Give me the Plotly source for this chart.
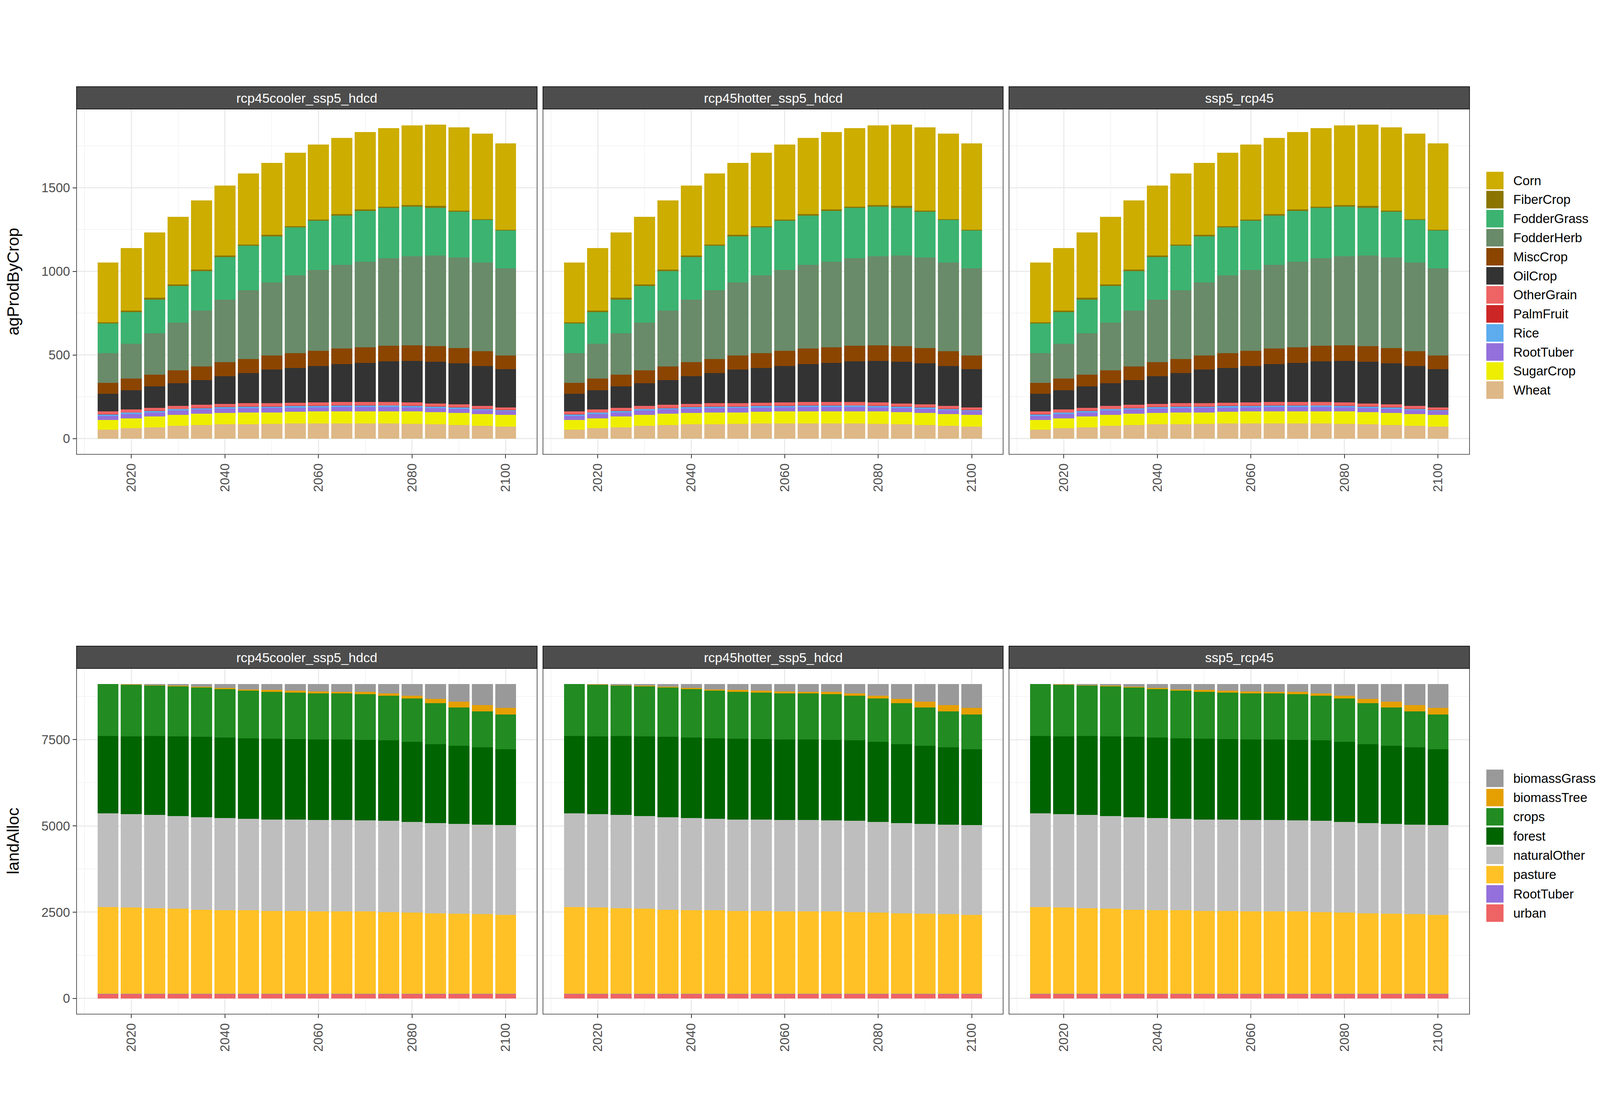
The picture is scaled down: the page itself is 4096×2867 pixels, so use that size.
import plotly.graph_objects as go

W, H = 4096, 2867
FONT = "Liberation Sans, Arial, Helvetica, sans-serif"

scenarios = ["rcp45cooler_ssp5_hdcd", "rcp45hotter_ssp5_hdcd", "ssp5_rcp45"]
years = [2015, 2020, 2025, 2030, 2035, 2040, 2045, 2050, 2055,
         2060, 2065, 2070, 2075, 2080, 2085, 2090, 2095, 2100]

# ---- agProdByCrop (stack order top -> bottom, as in legend) ----
crop_names = ["Corn", "FiberCrop", "FodderGrass", "FodderHerb", "MiscCrop", "OilCrop",
              "OtherGrain", "PalmFruit", "Rice", "RootTuber", "SugarCrop", "Wheat"]
crop_colors = ["#CDAD00", "#8B7500", "#3CB371", "#698B69", "#8B4500", "#333333",
               "#EE6363", "#CD2626", "#5CACEE", "#9370DB", "#EEEE00", "#DEB887"]
Corn        = [357, 373, 390, 404, 412, 417, 424, 430, 438, 448, 456, 463, 469, 477, 487, 498, 510, 515]
FiberCrop   = [8, 10, 10, 10, 10, 10, 8, 8, 8, 8, 10, 8, 8, 10, 10, 6, 6, 6]
FodderGrass = [177, 188, 201, 219, 237, 253, 265, 276, 287, 294, 295, 304, 302, 295, 286, 273, 253, 227]
FodderHerb  = [177, 208, 248, 286, 334, 375, 411, 437, 464, 485, 500, 511, 523, 534, 541, 542, 532, 519]
MiscCrop    = [65, 70, 71, 76, 80, 83, 84, 84, 89, 89, 93, 94, 93, 93, 94, 91, 88, 83]
OilCrop     = [105, 115, 128, 136, 149, 166, 182, 201, 208, 218, 226, 234, 244, 248, 250, 247, 239, 229]
OtherGrain  = [18, 18, 16, 18, 19, 18, 18, 18, 18, 19, 19, 19, 19, 19, 17, 16, 15, 13]
PalmFruit   = [1, 1, 1, 1, 1, 1, 1, 1, 1, 1, 1, 1, 1, 1, 1, 1, 1, 1]
Rice        = [10, 10, 10, 10, 8, 10, 10, 10, 11, 11, 11, 11, 10, 10, 10, 10, 8, 6]
RootTuber   = [23, 24, 24, 24, 26, 26, 26, 26, 24, 24, 24, 24, 24, 24, 23, 23, 24, 24]
SugarCrop   = [58, 60, 65, 67, 67, 67, 70, 68, 70, 71, 73, 73, 73, 73, 73, 73, 71, 71]
Wheat       = [54, 62, 68, 76, 81, 86, 86, 89, 91, 91, 91, 91, 91, 89, 86, 81, 76, 71]
crop_values = [Corn, FiberCrop, FodderGrass, FodderHerb, MiscCrop, OilCrop,
               OtherGrain, PalmFruit, Rice, RootTuber, SugarCrop, Wheat]

# ---- landAlloc ----
land_names = ["biomassGrass", "biomassTree", "crops", "forest", "naturalOther",
              "pasture", "RootTuber", "urban"]
land_colors = ["#999999", "#E69F00", "#228B22", "#006400", "#BEBEBE",
               "#FFC125", "#9370DB", "#EE6363"]
biomassGrass = [0, 8, 32, 41, 73, 114, 154, 171, 195, 211, 228, 228, 268, 333, 431, 512, 609, 683]
biomassTree  = [0, 8, 8, 16, 24, 33, 33, 49, 57, 57, 49, 65, 73, 89, 122, 163, 179, 203]
crops        = [1503, 1495, 1463, 1454, 1430, 1398, 1381, 1365, 1341, 1333, 1333, 1324, 1292, 1251, 1186, 1113, 1048, 999]
forest       = [2243, 2259, 2291, 2316, 2332, 2340, 2340, 2340, 2332, 2340, 2332, 2332, 2332, 2316, 2283, 2267, 2243, 2202]
naturalOther = [2714, 2706, 2698, 2681, 2681, 2673, 2649, 2649, 2649, 2649, 2649, 2641, 2641, 2633, 2616, 2600, 2592, 2600]
pasture      = [2514, 2498, 2481, 2465, 2433, 2416, 2416, 2400, 2400, 2384, 2384, 2384, 2368, 2351, 2335, 2319, 2303, 2286]
RootTuberL   = [5, 5, 5, 5, 5, 5, 5, 5, 5, 5, 5, 5, 5, 5, 5, 5, 5, 5]
urban        = [130, 130, 130, 130, 130, 130, 130, 130, 130, 130, 130, 130, 130, 130, 130, 130, 130, 130]
land_values = [biomassGrass, biomassTree, crops, forest, naturalOther, pasture, RootTuberL, urban]

x_major = [2020, 2040, 2060, 2080, 2100]
x_minor = [2010, 2030, 2050, 2070, 2090]
rows = [
    dict(title="agProdByCrop", names=crop_names, colors=crop_colors, values=crop_values,
         yrange=[-94, 1971], ymajor=[0, 500, 1000, 1500], yminor=[250, 750, 1250, 1750],
         strip=(214, 271), plot=(271, 1155), leg_top=431.7, leg_pitch=48.76, leg_h=45),
    dict(title="landAlloc", names=land_names, colors=land_colors, values=land_values,
         yrange=[-455, 9563], ymajor=[0, 2500, 5000, 7500], yminor=[1250, 3750, 6250, 8750],
         strip=(1646, 1703), plot=(1703, 2588), leg_top=1962, leg_pitch=49.3, leg_h=44.7),
]
cols = [(188, 1367), (1382, 2560), (2575, 3754)]

fig = go.Figure()
shapes, annos = [], []
layout = {}
tickfont = dict(family=FONT, size=33, color="#4D4D4D")

for r, row in enumerate(rows):
    for c, scen in enumerate(scenarios):
        i = r * 3 + c + 1
        xa, ya = ("x" if i == 1 else f"x{i}"), ("y" if i == 1 else f"y{i}")
        # bars: plotly stacks first trace at bottom -> reverse
        for name, color, vals in reversed(list(zip(row["names"], row["colors"], row["values"]))):
            fig.add_trace(go.Bar(x=years, y=vals, name=name, width=4.5,
                                 marker=dict(color=color, line=dict(width=0)),
                                 xaxis=xa, yaxis=ya, showlegend=False))
        x0, x1 = cols[c]
        p0, p1 = row["plot"]
        s0, s1 = row["strip"]
        layout["xaxis" if i == 1 else f"xaxis{i}"] = dict(
            domain=[x0 / W, x1 / W], anchor=ya, range=[2008.275, 2106.725],
            tickmode="array", tickvals=x_major, tickangle=-90,
            ticks="outside", ticklen=9, tickwidth=2, tickcolor="#333333",
            showgrid=True, gridcolor="#EBEBEB", gridwidth=2.7,
            minor=dict(tickmode="array", tickvals=x_minor, showgrid=True,
                       gridcolor="#EBEBEB", gridwidth=1.4, ticks=""),
            zeroline=False, showline=False, tickfont=tickfont, fixedrange=True)
        layout["yaxis" if i == 1 else f"yaxis{i}"] = dict(
            domain=[1 - p1 / H, 1 - p0 / H], anchor=xa, range=row["yrange"],
            tickmode="array", tickvals=row["ymajor"],
            ticks="outside" if c == 0 else "", ticklen=9, tickwidth=2, tickcolor="#333333",
            showticklabels=(c == 0),
            showgrid=True, gridcolor="#EBEBEB", gridwidth=2.7,
            minor=dict(tickmode="array", tickvals=row["yminor"], showgrid=True,
                       gridcolor="#EBEBEB", gridwidth=1.4, ticks=""),
            zeroline=False, showline=False, tickfont=tickfont, fixedrange=True)
        # panel border
        shapes.append(dict(type="rect", xref="paper", yref="paper",
                           x0=x0 / W, x1=x1 / W, y0=1 - p1 / H, y1=1 - p0 / H,
                           line=dict(color="#333333", width=1.6), fillcolor="rgba(0,0,0,0)",
                           layer="above"))
        # strip
        shapes.append(dict(type="rect", xref="paper", yref="paper",
                           x0=x0 / W, x1=x1 / W, y0=1 - s1 / H, y1=1 - s0 / H,
                           line=dict(color="#1A1A1A", width=2), fillcolor="#4D4D4D",
                           layer="above"))
        annos.append(dict(text=scen, xref="paper", yref="paper", showarrow=False,
                          x=(x0 + x1) / 2 / W, y=1 - (s0 + s1) / 2 / H,
                          xanchor="center", yanchor="middle",
                          font=dict(family=FONT, size=34, color="#FFFFFF")))
    # y-axis title
    p0, p1 = row["plot"]
    annos.append(dict(text=row["title"], xref="paper", yref="paper", showarrow=False,
                      x=1 / W, y=1 - (p0 + p1) / 2 / H, textangle=-90,
                      xanchor="left", yanchor="middle", borderpad=0,
                      font=dict(family=FONT, size=42, color="#000000")))
    # legend (manual keys)
    for k, (name, color) in enumerate(zip(row["names"], row["colors"])):
        top = row["leg_top"] + k * row["leg_pitch"]
        bot = top + row["leg_h"]
        shapes.append(dict(type="rect", xref="paper", yref="paper",
                           x0=3797 / W, x1=3841 / W, y0=1 - bot / H, y1=1 - top / H,
                           line=dict(width=0), fillcolor=color))
        annos.append(dict(text=name, xref="paper", yref="paper", showarrow=False,
                          x=3864 / W, y=1 - (top + bot) / 2 / H,
                          xanchor="left", yanchor="middle",
                          font=dict(family=FONT, size=33, color="#000000")))

fig.update_layout(width=W, height=H, margin=dict(l=0, r=0, t=0, b=0),
                  paper_bgcolor="white", plot_bgcolor="white",
                  barmode="stack", bargap=0, showlegend=False,
                  shapes=shapes, annotations=annos, **layout)
fig.write_html("out.html")
